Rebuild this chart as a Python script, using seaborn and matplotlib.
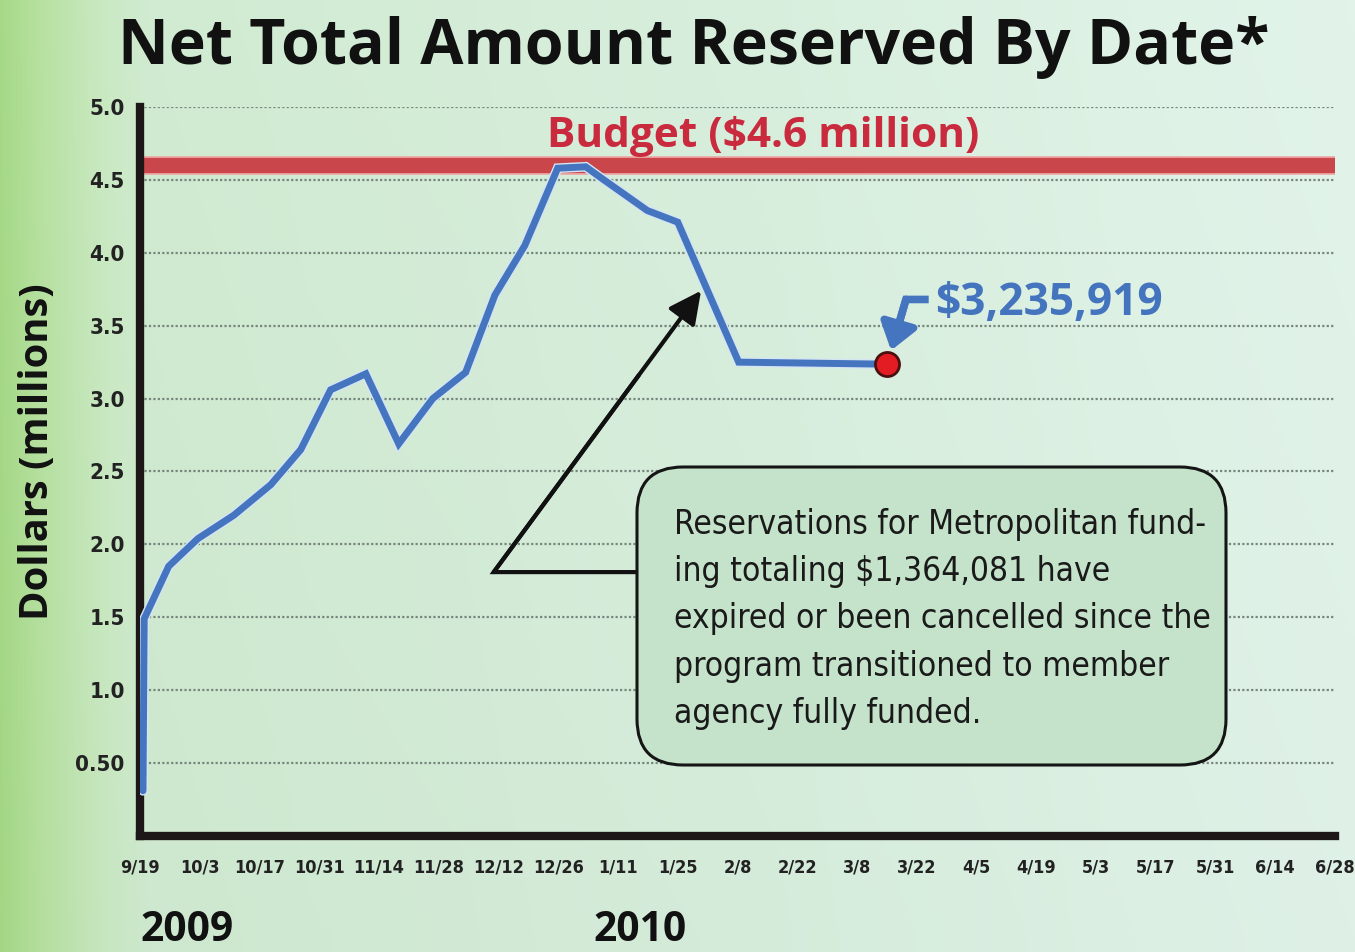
import numpy as np
import matplotlib
matplotlib.use("Agg")
import matplotlib.pyplot as plt
import seaborn as sns
from matplotlib import font_manager
from matplotlib.patches import FancyBboxPatch
import matplotlib.patheffects as pe

# ---------------- data ----------------
tick_labels = ["9/19", "10/3", "10/17", "10/31", "11/14", "11/28", "12/12", "12/26",
               "1/11", "1/25", "2/8", "2/22", "3/8", "3/22", "4/5", "4/19", "5/3",
               "5/17", "5/31", "6/14", "6/28"]
# position in tick units (one unit = one labelled two-week step)
period = [0.05, 0.07, 0.48, 0.97, 1.57, 2.19, 2.69, 3.19, 3.78, 4.33, 4.90,
          5.45, 5.94, 6.44, 6.99, 7.46, 7.73, 8.49, 9.00, 10.02, 12.51]
amount = [0.31, 1.49, 1.85, 2.04, 2.20, 2.41, 2.65, 3.06, 3.17, 2.69, 3.00,
          3.18, 3.71, 4.05, 4.58, 4.59, 4.51, 4.29, 4.21, 3.25, 3.236]
final_period = 12.51
final_amount = 3.235919
budget = 4.6
y_ticks = [0.5, 1.0, 1.5, 2.0, 2.5, 3.0, 3.5, 4.0, 4.5, 5.0]
y_tick_labels = ["0.50", "1.0", "1.5", "2.0", "2.5", "3.0", "3.5", "4.0", "4.5", "5.0"]
year_labels = ["2009", "2010"]
title = "Net Total Amount Reserved By Date*"
budget_label = "Budget ($4.6 million)"
final_label = "$3,235,919"
note_lines = ["Reservations for Metropolitan fund-",
              "ing totaling $1,364,081 have",
              "expired or been cancelled since the",
              "program transitioned to member",
              "agency fully funded."]

# ---------------- style ----------------
sns.set_style("white")
names = {f.name for f in font_manager.fontManager.ttflist}
if "Liberation Sans Narrow" in names:
    NARROW, STRETCH = "Liberation Sans Narrow", "normal"
else:
    NARROW, STRETCH = "DejaVu Sans", "condensed"
BOLD = "Open Sans" if "Open Sans" in names else "DejaVu Sans"
plt.rcParams["font.family"] = [BOLD, "DejaVu Sans"]

BLUE = "#4675c0"
RED_BAND = "#c9464a"
DARK = "#1d1718"

W, H = 1355, 952
fig = plt.figure(figsize=(W / 100, H / 100), dpi=100)
renderer = fig.canvas.get_renderer()

# background gradient
bg = fig.add_axes([0, 0, 1, 1], zorder=-10)
xs = np.linspace(0, W, 600)
stops_x = [0, 40, 100, 150, 700, 1355]
stops_c = np.array([[163, 214, 132], [180, 222, 158], [198, 230, 190],
                    [206, 232, 207], [212, 235, 217], [223, 241, 231]]) / 255
grad = np.stack([np.interp(xs, stops_x, stops_c[:, k]) for k in range(3)], axis=-1)
rows = np.linspace(1.0, 0.0, 30)[:, None, None]
img = np.clip(grad[None, :, :] + rows * 0.012, 0, 1)
bg.imshow(img, aspect="auto", extent=[0, 1, 0, 1], interpolation="bilinear")
bg.axis("off")

# main axes
top_px, bot_px, left_px, right_px = 107, 836, 140, 1335
ax = fig.add_axes([left_px / W, 1 - bot_px / H, (right_px - left_px) / W, (bot_px - top_px) / H])
ax.patch.set_alpha(0)

sns.lineplot(x=period, y=amount, ax=ax, color=BLUE, linewidth=5, sort=False,
             estimator=None, zorder=4)
line = ax.lines[-1]
line.set_solid_joinstyle("miter")
line.set_path_effects([pe.Stroke(linewidth=7, foreground="#d4e5f3"), pe.Normal()])

ax.axhline(budget, color="#eea9a6", linewidth=13.5, zorder=2)
ax.axhline(budget, color=RED_BAND, linewidth=11, zorder=2.1)

ax.scatter([final_period], [final_amount], s=300, color="#e31b23",
           edgecolor="#4a1010", linewidth=2, zorder=6)

ax.set_xlim(0, 20)
ax.set_ylim(0, 5)
ax.set_xticks(range(len(tick_labels)))
ax.set_xticklabels(tick_labels, fontfamily=NARROW, fontstretch=STRETCH,
                   fontweight="bold", fontsize=13, color="#222222")
ax.set_yticks(y_ticks)
ax.set_yticklabels(y_tick_labels, fontfamily=NARROW, fontstretch=STRETCH,
                   fontweight="bold", fontsize=16, color="#222222")
ax.tick_params(axis="both", length=0)
ax.tick_params(axis="x", pad=16)
ax.tick_params(axis="y", pad=11)
ax.yaxis.grid(True, color="#78877d", linestyle=(0, (1.0, 1.0)), linewidth=1.6)
ax.xaxis.grid(False)
ax.set_axisbelow(True)
for s in ["top", "right"]:
    ax.spines[s].set_visible(False)
for s in ["left", "bottom"]:
    ax.spines[s].set_linewidth(6)
    ax.spines[s].set_color(DARK)
    ax.spines[s].set_capstyle("projecting")
    ax.spines[s].set_zorder(3)


def fit(t, target, axis="w"):
    bb = t.get_window_extent(renderer)
    cur = bb.width if axis == "w" else bb.height
    t.set_fontsize(t.get_fontsize() * target / cur)


# black arrow from note to the decline
b_start, b_corner, b_tip = (8.33, 1.81), (5.92, 1.81), (9.39, 3.74)
ax.plot([b_start[0], b_corner[0], b_corner[0] + 0.7 * (b_tip[0] - b_corner[0])],
        [b_start[1], b_corner[1], b_corner[1] + 0.7 * (b_tip[1] - b_corner[1])],
        color="#111111", linewidth=3, solid_joinstyle="miter", zorder=5)
ax.annotate("", xy=b_tip, xytext=b_corner,
            arrowprops=dict(arrowstyle="-|>,head_length=0.9,head_width=0.45",
                            color="#111111", lw=3, mutation_scale=22,
                            shrinkA=0, shrinkB=0), zorder=5)

# blue hook arrow to the last point
h_start, h_corner, h_tip = (13.2, 3.68), (12.82, 3.68), (12.57, 3.33)
ax.plot([h_start[0], h_corner[0], h_corner[0] + 0.6 * (h_tip[0] - h_corner[0])],
        [h_start[1], h_corner[1], h_corner[1] + 0.6 * (h_tip[1] - h_corner[1])],
        color=BLUE, linewidth=5.5, solid_joinstyle="miter", solid_capstyle="butt", zorder=5)
ax.annotate("", xy=h_tip, xytext=h_corner,
            arrowprops=dict(arrowstyle="-|>,head_length=0.7,head_width=0.5",
                            color=BLUE, lw=5.5, mutation_scale=22,
                            shrinkA=0, shrinkB=0), zorder=5)

t = ax.text(10.43, 4.726, budget_label, color="#c92a3e", fontweight="bold",
            ha="center", va="baseline", fontsize=26, zorder=5)
fit(t, 435)
t = ax.text(13.3, 3.573, final_label, color="#4474bd", fontweight="bold",
            ha="left", va="baseline", fontsize=28, zorder=5)
fit(t, 228)

# note box
bx0, bx1, by0, by1 = 637 / W, 1226 / W, 1 - 765 / H, 1 - 467 / H
box = FancyBboxPatch((bx0, by0), bx1 - bx0, by1 - by0,
                     boxstyle="round,pad=0,rounding_size=0.034",
                     mutation_aspect=W / H, transform=fig.transFigure,
                     facecolor="#c4e3ca", edgecolor="#151515", linewidth=2.2, zorder=6)
fig.add_artist(box)
baselines = [534, 581, 628, 676, 723]
texts = []
for txt, b in zip(note_lines, baselines):
    texts.append(fig.text(674 / W, 1 - b / H, txt, fontfamily=NARROW, fontstretch=STRETCH,
                          fontsize=24, color="#1a1a1a", ha="left", va="baseline", zorder=7))
fit(texts[0], 533)
for tt in texts[1:]:
    tt.set_fontsize(texts[0].get_fontsize())

# title, axis label, years
t = fig.text(694 / W, 1 - 64 / H, title, fontweight="bold", color="#111111",
             ha="center", va="baseline", fontsize=44)
fit(t, 1152)
t = fig.text(38 / W, 1 - 452 / H, "Dollars (millions)", rotation=90, fontweight="bold",
             color="#111111", ha="center", va="center", fontsize=24)
fit(t, 337, axis="h")
for lab, xc in zip(year_labels, [187, 640]):
    t = fig.text(xc / W, 1 - 941 / H, lab, fontweight="bold", color="#111111",
                 ha="center", va="baseline", fontsize=29)
    fit(t, 93)

fig.savefig("out.png", dpi=100)
